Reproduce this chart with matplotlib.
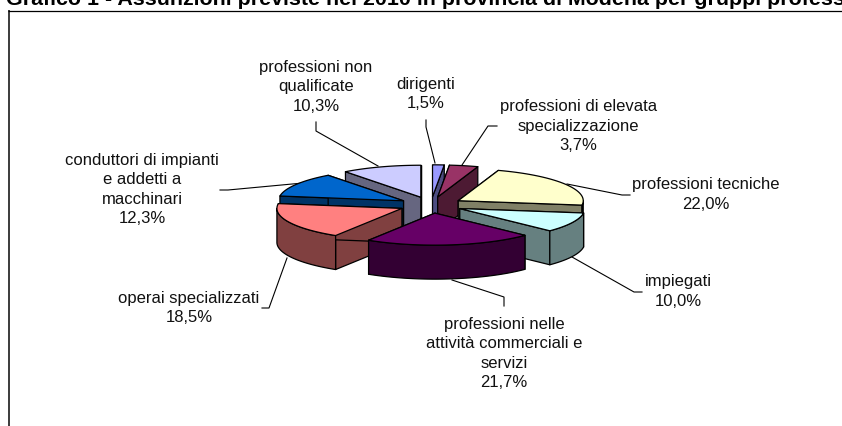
import numpy as np
import matplotlib
matplotlib.use("Agg")
import matplotlib.pyplot as plt
from matplotlib.patches import Polygon

plt.rcParams['font.family'] = ['Liberation Sans', 'DejaVu Sans']

categories = ["dirigenti", "professioni di elevata\nspecializzazione", "professioni tecniche",
              "impiegati", "professioni nelle\nattività commerciali e\nservizi", "operai specializzati",
              "conduttori di impianti\ne addetti a\nmacchinari", "professioni non\nqualificate"]
values = [1.5, 3.7, 22.0, 10.0, 21.7, 18.5, 12.3, 10.3]
value_labels = ["1,5%", "3,7%", "22,0%", "10,0%", "21,7%", "18,5%", "12,3%", "10,3%"]
top_colors = ["#9999FF", "#993366", "#FFFFCC", "#CCFFFF", "#660066", "#FF8080", "#0066CC", "#CCCCFF"]
side_colors = ["#4C4C80", "#4D1A33", "#808066", "#668080", "#330033", "#804040", "#003366", "#666680"]
label_pos = [(426, 94), (578.5, 126), (706, 194.5), (678, 291.5), (504, 353.5), (189, 308), (142, 189.5), (316, 87)]
leaders = [[(426, 120), (426, 127), (435, 163)], [(497, 126), (488, 126), (462, 165)],
           [(630, 195), (622, 195), (567, 184)], [(642, 292), (634, 292), (572, 257)],
           [(504, 306), (504, 297), (452, 280)], [(262, 308), (269, 308), (287, 258)],
           [(220, 190), (228, 190), (303, 183)], [(316, 122), (316, 131), (378, 166)]]

CX, CY, RX, RY, DEPTH, EXPL = 431, 205, 125, 32, 34, 32

fig = plt.figure(figsize=(8.42, 4.26), dpi=100)
ax = fig.add_axes([0, 0, 1, 1])
ax.set_xlim(0, 842); ax.set_ylim(426, 0); ax.axis('off')

ax.plot([9, 9], [10, 426], color='#404040', lw=1.44, zorder=1, solid_capstyle='butt')
ax.plot([8, 842], [10.5, 10.5], color='black', lw=0.9, zorder=1, solid_capstyle='butt')
ax.text(6, 5, "Grafico 1 - Assunzioni previste nel 2010 in provincia di Modena per gruppi professionali",
        fontsize=15.4, fontweight='bold', va='baseline', ha='left', color='black', zorder=20)

total = sum(values)
edges = np.concatenate([[0], np.cumsum(values)]) / total * 2 * np.pi
pt = lambda a, ox, oy, dz=0: (ox + RX*np.sin(a), oy - RY*np.cos(a) + dz)

slices = []
for i in range(len(values)):
    a0, a1 = edges[i], edges[i+1]
    mid = (a0 + a1) / 2
    ox = CX + EXPL*np.sin(mid)
    oy = CY - EXPL*RY/RX*np.cos(mid)
    slices.append((oy, i, a0, a1, ox))

for oy, i, a0, a1, ox in sorted(slices):
    z = 2 + oy / 100
    ang = np.linspace(a0, a1, 80)
    sc, tc = side_colors[i], top_colors[i]
    kw = dict(ec='black', lw=0.9, joinstyle='round', zorder=z)
    for a in (a0, a1):
        px, py = pt(a, ox, oy)
        ax.add_patch(Polygon([(ox, oy), (px, py), (px, py+DEPTH), (ox, oy+DEPTH)], fc=sc, **kw))
    lo, hi = max(a0, np.pi/2), min(a1, 3*np.pi/2)
    if hi > lo:
        wa = np.linspace(lo, hi, 80)
        up = [pt(a, ox, oy) for a in wa]
        dn = [pt(a, ox, oy, DEPTH) for a in wa[::-1]]
        ax.add_patch(Polygon(up + dn, fc=sc, **kw))
    ax.add_patch(Polygon([(ox, oy)] + [pt(a, ox, oy) for a in ang], fc=tc, **kw))

for pts in leaders:
    xs, ys = zip(*pts)
    ax.plot(xs, ys, color='black', lw=0.8, zorder=1.5, solid_joinstyle='miter')

for name, val, (x, y) in zip(categories, value_labels, label_pos):
    ax.text(x, y, name + "\n" + val, fontsize=12, ha='center', va='center',
            linespacing=1.36, color='#111111', zorder=20)

fig.savefig("out.png", dpi=100)
